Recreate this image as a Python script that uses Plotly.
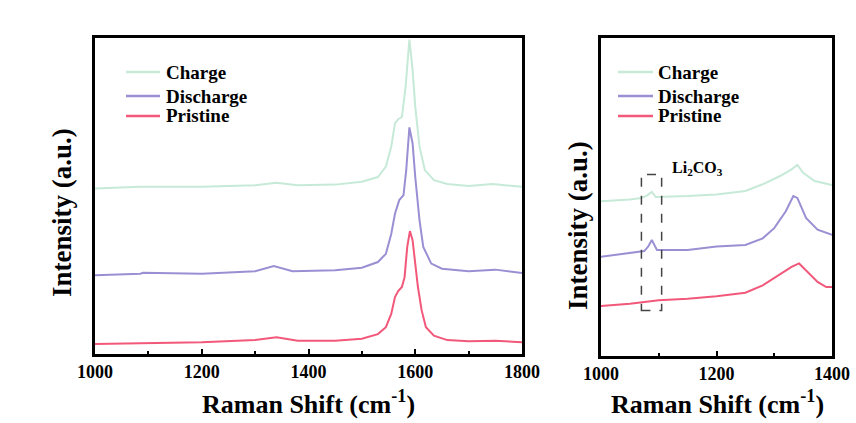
import plotly.graph_objects as go

# ---------------- Left panel data (Raman shift, cm-1 ; relative intensity 0-100) ----------------
L_pristine_x = [1000, 1100, 1200, 1300, 1340, 1380, 1450, 1500, 1530, 1545, 1555, 1562, 1568, 1575, 1580,
                1585, 1590, 1595, 1600, 1605, 1612, 1620, 1635, 1660, 1700, 1750, 1800]
L_pristine_y = [3.2, 3.4, 3.7, 4.4, 5.3, 4.2, 4.2, 4.8, 6.3, 8.5, 12.7, 18.0, 19.9, 21.2, 24.3,
                33.9, 38.9, 36.0, 28.6, 21.2, 13.8, 8.5, 5.8, 4.4, 4.0, 4.2, 3.7]

L_discharge_x = [1000, 1085, 1090, 1200, 1300, 1335, 1370, 1450, 1500, 1530, 1545, 1555, 1562, 1570, 1578,
                 1583, 1589, 1595, 1600, 1608, 1615, 1630, 1650, 1700, 1750, 1800]
L_discharge_y = [24.9, 25.4, 25.7, 25.4, 26.2, 27.8, 26.2, 26.5, 27.3, 29.1, 31.7, 38.0, 44.4, 48.7, 50.3,
                 58.0, 71.7, 66.7, 56.0, 42.3, 33.9, 28.6, 27.0, 26.2, 26.7, 25.6]

L_charge_x = [1000, 1085, 1200, 1300, 1340, 1380, 1450, 1500, 1530, 1545, 1555, 1562, 1568, 1575, 1582,
              1589, 1595, 1600, 1608, 1618, 1635, 1660, 1700, 1745, 1800]
L_charge_y = [52.4, 52.9, 52.9, 53.4, 54.2, 53.4, 53.6, 54.5, 56.0, 59.3, 65.6, 73.0, 74.3, 75.0, 84.7,
              99.5, 90.0, 78.3, 65.6, 58.2, 55.0, 53.8, 53.2, 53.8, 52.9]

# ---------------- Right panel data ----------------
R_charge_x = [1000, 1050, 1070, 1080, 1088, 1095, 1150, 1200, 1250, 1280, 1310, 1330, 1340, 1350, 1370, 1400]
R_charge_y = [48.7, 49.2, 49.7, 50.5, 51.6, 50.0, 50.3, 50.8, 51.9, 54.0, 56.6, 58.7, 60.1, 57.6, 55.0, 53.8]

R_discharge_x = [1000, 1050, 1075, 1082, 1088, 1097, 1150, 1200, 1250, 1280, 1300, 1320, 1333, 1340, 1355, 1375, 1400]
R_discharge_y = [31.2, 32.3, 33.0, 34.5, 36.5, 33.3, 33.3, 34.4, 34.9, 37.0, 40.2, 45.5, 50.3, 49.7, 43.4, 39.7, 38.1]

R_pristine_x = [1000, 1050, 1100, 1150, 1200, 1250, 1280, 1310, 1330, 1343, 1355, 1375, 1390, 1400]
R_pristine_y = [15.7, 16.4, 17.5, 18.0, 18.8, 19.9, 22.2, 25.6, 28.0, 29.1, 27.0, 23.3, 21.7, 21.7]

# Li2CO3 highlight box (data units of right panel)
box_x = [1070, 1105]
box_y = [14.3, 57.1]
label_pos = (1167, 59.0)

names = ["Charge", "Discharge", "Pristine"]
colors = {"Charge": "#c6ead7", "Discharge": "#9b8fd3", "Pristine": "#f2587a"}

FONT = "Liberation Serif"
W, H = 856, 423

fig = go.Figure()

left = {"Charge": (L_charge_x, L_charge_y), "Discharge": (L_discharge_x, L_discharge_y),
        "Pristine": (L_pristine_x, L_pristine_y)}
right = {"Charge": (R_charge_x, R_charge_y), "Discharge": (R_discharge_x, R_discharge_y),
         "Pristine": (R_pristine_x, R_pristine_y)}

for n in names:
    x, y = left[n]
    fig.add_trace(go.Scatter(x=x, y=y, mode="lines", name=n, line=dict(color=colors[n], width=2),
                             xaxis="x", yaxis="y", showlegend=False))
for n in names:
    x, y = right[n]
    fig.add_trace(go.Scatter(x=x, y=y, mode="lines", name=n, line=dict(color=colors[n], width=2),
                             xaxis="x2", yaxis="y2", showlegend=False))

tickfont = dict(family=FONT, size=18, color="black", weight="bold")

def xax(domain, rng, dtick, anchor):
    return dict(domain=domain, range=rng, anchor=anchor, showline=True, linewidth=2.5, linecolor="black",
                mirror=True, ticks="inside", ticklen=5, tickwidth=1.5, tickcolor="black", dtick=dtick,
                minor=dict(ticks="inside", ticklen=3, dtick=dtick / 2, tickcolor="black", tickwidth=1.5),
                showgrid=False, zeroline=False, tickfont=tickfont, automargin=False)

def yax(domain, anchor):
    return dict(domain=domain, range=[0, 100], anchor=anchor, showline=True, linewidth=2.5, linecolor="black",
                mirror=True, ticks="", showticklabels=False, showgrid=False, zeroline=False, automargin=False)

fig.update_layout(
    width=W, height=H, margin=dict(l=0, r=0, t=0, b=0, autoexpand=False),
    paper_bgcolor="white", plot_bgcolor="white",
    xaxis=xax([95 / W, 522 / W], [1000, 1800], 200, "y"),
    yaxis=yax([1 - 354 / H, 1 - 38 / H], "x"),
    xaxis2=xax([601 / W, 832 / W], [1000, 1400], 200, "y2"),
    yaxis2=yax([1 - 356 / H, 1 - 38 / H], "x2"),
    showlegend=False,
)

# manual legends (line sample + label) for both panels
legfont = dict(family=FONT, size=19, color="black", weight="bold")
leg_rows = [72, 96, 116]
for (lx0, lx1, tx) in [(126, 160, 164), (618, 653, 656)]:
    for n, ry in zip(names, leg_rows):
        fig.add_shape(type="line", xref="paper", yref="paper", x0=lx0 / W, x1=lx1 / W,
                      y0=1 - ry / H, y1=1 - ry / H, line=dict(color=colors[n], width=2.5))
        fig.add_annotation(text=n, xref="paper", yref="paper", x=tx / W, y=1 - ry / H,
                           showarrow=False, font=legfont, xanchor="left", yanchor="middle")

titlefont = dict(family=FONT, size=26, color="black", weight="bold")
fig.add_annotation(text="Raman Shift (cm<sup>-1</sup>)", xref="paper", yref="paper",
                   x=308 / W, y=1 - 402 / H, showarrow=False, font=titlefont, xanchor="center", yanchor="middle")
fig.add_annotation(text="Raman Shift (cm<sup>-1</sup>)", xref="paper", yref="paper",
                   x=717 / W, y=1 - 402 / H, showarrow=False, font=titlefont, xanchor="center", yanchor="middle")
fig.add_annotation(text="Intensity (a.u.)", xref="paper", yref="paper", textangle=-90,
                   x=62 / W, y=1 - 212 / H, showarrow=False, font=dict(family=FONT, size=27, color="black", weight="bold"),
                   xanchor="center", yanchor="middle")
fig.add_annotation(text="Intensity (a.u.)", xref="paper", yref="paper", textangle=-90,
                   x=578 / W, y=1 - 226 / H, showarrow=False, font=dict(family=FONT, size=27, color="black", weight="bold"),
                   xanchor="center", yanchor="middle")

fig.add_shape(type="rect", xref="x2", yref="y2", x0=box_x[0], x1=box_x[1], y0=box_y[0], y1=box_y[1],
              line=dict(color="#444444", width=1.5, dash="dash"))
fig.add_annotation(text="Li<sub>2</sub>CO<sub>3</sub>", xref="x2", yref="y2", x=label_pos[0], y=label_pos[1],
                   showarrow=False, font=dict(family=FONT, size=16, color="black", weight="bold"),
                   xanchor="center", yanchor="middle")

fig.write_html("out.html")
